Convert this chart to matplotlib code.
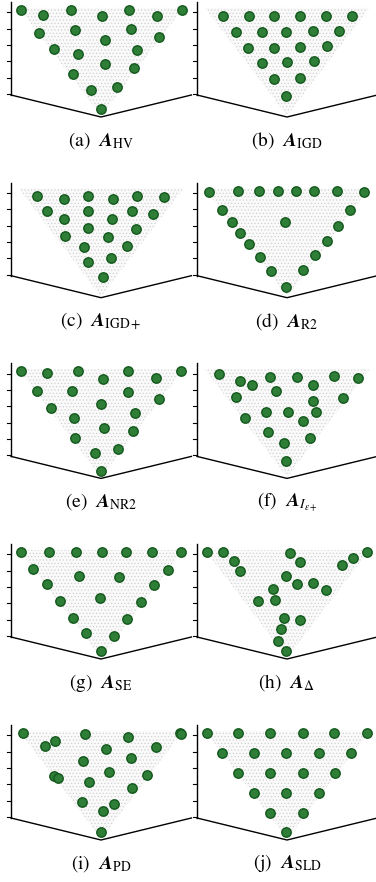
import numpy as np
import matplotlib.pyplot as plt

plt.rcParams['font.family'] = ['STIXGeneral', 'DejaVu Serif']
plt.rcParams['mathtext.fontset'] = 'stix'
plt.rcParams['hatch.linewidth'] = 0.5

# point sets on the (projected) simplex: u = across the top edge, v = 0 at bottom tip, 1 at top edge
hv_u = [0.00, 0.141, 0.313, 0.504, 0.675, 0.849, 1.00, 0.115, 0.338, 0.684, 0.861, 0.524,
        0.210, 0.355, 0.725, 0.526, 0.706, 0.324, 0.436, 0.600, 0.498]
hv_v = [1.00, 0.947, 0.997, 0.940, 0.997, 0.937, 1.00, 0.769, 0.796, 0.806, 0.729, 0.696,
        0.605, 0.555, 0.595, 0.455, 0.412, 0.351, 0.194, 0.227, 0.00]

igd_u = [0.100, 0.262, 0.421, 0.580, 0.741, 0.901, 0.183, 0.344, 0.493, 0.659, 0.824,
         0.259, 0.417, 0.580, 0.746, 0.342, 0.499, 0.665, 0.421, 0.582, 0.493]
igd_v = [0.940, 0.940, 0.940, 0.940, 0.940, 0.940, 0.773, 0.779, 0.779, 0.789, 0.789,
         0.618, 0.618, 0.629, 0.639, 0.462, 0.472, 0.485, 0.304, 0.317, 0.134]

igdp_u = [0.104, 0.270, 0.421, 0.572, 0.725, 0.892, 0.162, 0.270, 0.421, 0.566, 0.694,
          0.820, 0.278, 0.421, 0.541, 0.717, 0.396, 0.659, 0.421, 0.559, 0.512]
igdp_v = [0.947, 0.914, 0.947, 0.911, 0.947, 0.937, 0.797, 0.713, 0.797, 0.713, 0.797,
          0.760, 0.542, 0.619, 0.529, 0.609, 0.435, 0.442, 0.284, 0.325, 0.134]

r2_u = [0.013, 0.193, 0.324, 0.446, 0.555, 0.669, 0.810, 0.975, 0.094, 0.892, 0.156,
        0.489, 0.818, 0.210, 0.745, 0.266, 0.673, 0.332, 0.601, 0.400, 0.493]
r2_v = [0.981, 0.997, 0.997, 0.997, 0.997, 0.997, 0.997, 0.981, 0.803, 0.803, 0.680,
        0.680, 0.643, 0.576, 0.495, 0.458, 0.351, 0.328, 0.199, 0.191, 0.033]

nr2_u = [0.00, 0.166, 0.355, 0.510, 0.669, 0.841, 0.996, 0.100, 0.322, 0.669, 0.859,
         0.189, 0.499, 0.710, 0.332, 0.520, 0.696, 0.338, 0.462, 0.603, 0.497]
nr2_v = [1.00, 0.984, 1.00, 0.917, 1.00, 0.934, 1.00, 0.804, 0.804, 0.787, 0.717,
         0.633, 0.670, 0.583, 0.526, 0.425, 0.399, 0.325, 0.174, 0.215, 0.00]

eps_u = [0.076, 0.210, 0.282, 0.396, 0.559, 0.663, 0.793, 0.942, 0.183, 0.431, 0.663,
         0.845, 0.241, 0.369, 0.504, 0.679, 0.601, 0.384, 0.642, 0.479, 0.493]
eps_v = [0.968, 0.900, 0.860, 0.937, 0.937, 0.860, 0.954, 0.927, 0.743, 0.803, 0.700,
         0.733, 0.526, 0.586, 0.586, 0.586, 0.499, 0.385, 0.325, 0.275, 0.101]

se_u = [0.001, 0.179, 0.342, 0.504, 0.654, 0.818, 0.996, 0.080, 0.365, 0.613, 0.913,
        0.166, 0.830, 0.245, 0.493, 0.748, 0.328, 0.663, 0.406, 0.580, 0.497]
se_v = [0.995, 0.995, 0.995, 0.995, 0.995, 0.995, 0.995, 0.831, 0.761, 0.748, 0.821,
        0.671, 0.661, 0.510, 0.537, 0.493, 0.336, 0.326, 0.179, 0.152, 0.00]

delta_u = [0.003, 0.100, 0.168, 0.210, 0.520, 0.580, 0.839, 0.911, 0.994, 0.493, 0.561,
           0.659, 0.741, 0.415, 0.322, 0.425, 0.479, 0.582, 0.462, 0.446, 0.493]
delta_v = [0.995, 0.995, 0.911, 0.811, 0.982, 0.895, 0.865, 0.938, 0.999, 0.754, 0.671,
           0.681, 0.611, 0.621, 0.510, 0.513, 0.336, 0.319, 0.226, 0.102, 0.00]

pd_u = [0.018, 0.400, 0.665, 0.989, 0.993, 0.152, 0.214, 0.530, 0.839, 0.386, 0.683,
        0.210, 0.235, 0.551, 0.783, 0.427, 0.690, 0.379, 0.580, 0.514, 0.499]
pd_v = [0.994, 0.984, 0.960, 0.994, 0.990, 0.867, 0.917, 0.836, 0.853, 0.716, 0.743,
        0.569, 0.549, 0.609, 0.575, 0.502, 0.448, 0.308, 0.284, 0.217, 0.00]

sld_u = [0.001, 0.197, 0.396, 0.597, 0.793, 0.994, 0.096, 0.297, 0.493, 0.696, 0.896,
         0.193, 0.396, 0.597, 0.797, 0.297, 0.493, 0.700, 0.396, 0.597, 0.493]
sld_v = [0.994, 0.994, 0.994, 0.994, 0.994, 0.994, 0.800, 0.800, 0.800, 0.800, 0.800,
         0.599, 0.599, 0.599, 0.599, 0.398, 0.398, 0.398, 0.197, 0.197, 0.00]

captions = [r'(a)  $\mathbfit{A}_{\mathrm{HV}}$', r'(b)  $\mathbfit{A}_{\mathrm{IGD}}$',
            r'(c)  $\mathbfit{A}_{\mathrm{IGD}+}$', r'(d)  $\mathbfit{A}_{\mathrm{R2}}$',
            r'(e)  $\mathbfit{A}_{\mathrm{NR2}}$', r'(f)  $\mathbfit{A}_{I_{\epsilon+}}$',
            r'(g)  $\mathbfit{A}_{\mathrm{SE}}$', r'(h)  $\mathbfit{A}_{\Delta}$',
            r'(i)  $\mathbfit{A}_{\mathrm{PD}}$', r'(j)  $\mathbfit{A}_{\mathrm{SLD}}$']
sets = [(hv_u, hv_v), (igd_u, igd_v), (igdp_u, igdp_v), (r2_u, r2_v), (nr2_u, nr2_v),
        (eps_u, eps_v), (se_u, se_v), (delta_u, delta_v), (pd_u, pd_v), (sld_u, sld_v)]

W, H = 376, 882
fig = plt.figure(figsize=(W / 100, H / 100), dpi=100)

col_x = [0, 186]
row_tip = [117, 297.7, 478.4, 659, 840]   # pixel y of the floor corner in each row

for k, ((u, v), cap) in enumerate(zip(sets, captions)):
    r, c = divmod(k, 2)
    x0, tip = col_x[c], row_tip[r]
    ax = fig.add_axes([x0 / W, 1 - (tip + 10) / H, 190 / W, 130 / H])
    ax.set_xlim(-0.1272, 1.0515)
    ax.set_ylim(-0.1777, 1.1275)
    ax.axis('off')

    # the front (pareto) plane, stippled
    ax.fill([-0.01, 1.01, 0.5], [1.018, 1.018, -0.065], facecolor='#fafafa',
            edgecolor='#d2d2d2', linewidth=0, hatch='.....', zorder=1)

    # 3d box edges: z axis with ticks and the floor corner
    ax.plot([-0.0589, -0.0589], [0.1436, 1.0773], color='black', lw=1.0, zorder=2)
    ticks = 0.154 + 0.1636 * np.arange(6)
    for t in ticks:
        ax.plot([-0.0837, -0.0589], [t, t], color='black', lw=0.8, zorder=2)
    ax.plot([-0.0589, 0.4994, 1.06], [0.1436, -0.0773, 0.1436], color='black',
            lw=1.0, zorder=2, clip_on=False)

    ax.scatter(u, v, s=46, color='#2e7e37', edgecolors='#14581d', linewidths=1.0,
               zorder=3, clip_on=False)

    fig.text((x0 + 101) / W, 1 - (tip + 23.5) / H, cap, ha='center', va='center',
             fontsize=14)

fig.savefig('out.png', dpi=100)
